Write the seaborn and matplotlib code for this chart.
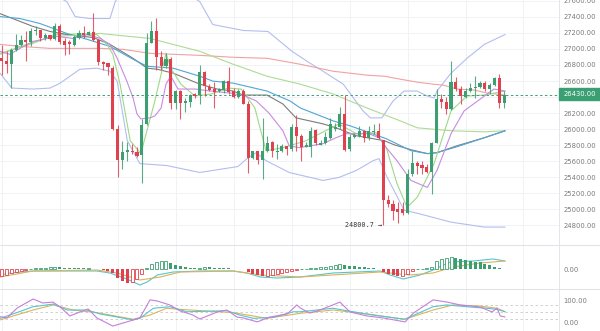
import matplotlib
matplotlib.use("Agg")
import matplotlib.pyplot as plt
from matplotlib.patches import Rectangle
import numpy as np
import pandas as pd
import seaborn as sns

sns.set_theme(style="white")
plt.rcParams['font.family'] = ['DejaVu Sans']

# ---- candles (4h) ----
opens = [26887, 26854, 26813, 26991, 27044, 27114, 27086, 27226, 27238, 27135,
         27168, 27127, 27292, 27094, 27086, 27052, 27135, 27197, 27176, 27205,
         27114, 26838, 26825, 26764, 26000, 25616, 25716, 25732, 25711, 25682,
         26062, 27073, 27218, 26896, 26784, 26879, 26330, 26475, 26330, 26339,
         26434, 26425, 26710, 26524, 26495, 26475, 26483, 26598, 26475, 26400,
         26475, 26318, 25641, 25724, 25616, 25732, 25835, 25720, 25732, 25785,
         25752, 26021, 25918, 25781, 25781, 25988, 25806, 25823, 25889, 25996,
         26021, 26186, 25752, 25897, 25918, 25979, 25889, 25963, 25971, 25864,
         25121, 25063, 25010, 25010, 24956, 25443, 25579, 25554, 25525, 25464,
         25823, 26372, 26339, 26248, 26586, 26495, 26405, 26475, 26508, 26528,
         26578, 26495, 26549, 26640, 26330]
highs = [27052, 26970, 27011, 27189, 27176, 27226, 27259, 27280, 27238, 27197,
         27176, 27321, 27308, 27135, 27114, 27176, 27238, 27292, 27218, 27445,
         27127, 26854, 26825, 26784, 26054, 25856, 25840, 25814, 25773, 26124,
         27197, 27350, 27383, 26970, 26949, 26896, 26483, 26483, 26392, 26442,
         26454, 26805, 26722, 26565, 26586, 26508, 26607, 26772, 26508, 26495,
         26495, 26351, 25732, 25732, 26141, 25918, 25848, 25814, 25814, 25794,
         26062, 26178, 25938, 25835, 26021, 26000, 25864, 25959, 26137, 26083,
         26277, 26421, 25938, 25946, 26041, 25988, 26041, 26070, 26083, 25870,
         25175, 25113, 25092, 25092, 25505, 25724, 25608, 25608, 25567, 25835,
         26495, 26442, 26400, 26854, 26648, 26537, 26508, 26578, 26660, 26598,
         26598, 26578, 26648, 26689, 26475]
lows = [26673, 26702, 26508, 26970, 27032, 26846, 27032, 27176, 27102, 27114,
        27114, 27114, 27061, 26929, 26941, 27032, 27127, 27135, 27168, 27102,
        26797, 26743, 26673, 25988, 25402, 25505, 25600, 25690, 25649, 25327,
        26050, 27073, 26743, 26743, 26764, 26248, 26248, 26124, 26215, 26277,
        26392, 26310, 26413, 26475, 26268, 26466, 26454, 26442, 26392, 26392,
        26310, 25451, 25629, 25567, 25373, 25711, 25649, 25629, 25711, 25682,
        25732, 25732, 25608, 25773, 25649, 25806, 25806, 25814, 25876, 25979,
        26000, 25724, 25732, 25889, 25897, 25835, 25864, 25938, 25880, 24800.7,
        25030, 24865, 24830, 24927, 24948, 25422, 25435, 25443, 25451, 25187,
        25823, 26268, 26186, 26235, 26475, 26310, 26392, 26466, 26392, 26508,
        26475, 26442, 26537, 26260, 26260]
closes = [26846, 26813, 26991, 27052, 27114, 27086, 27226, 27238, 27135, 27176,
          27127, 27292, 27086, 27052, 27061, 27143, 27197, 27176, 27209, 27114,
          26838, 26813, 26772, 26000, 25616, 25711, 25736, 25711, 25670, 26054,
          27073, 27218, 26896, 26784, 26879, 26330, 26475, 26330, 26351, 26425,
          26413, 26710, 26537, 26491, 26466, 26495, 26598, 26466, 26400, 26475,
          26318, 25641, 25724, 25616, 25732, 25823, 25724, 25732, 25785, 25752,
          26029, 25909, 25773, 25806, 25979, 25823, 25831, 25897, 26062, 26021,
          26186, 25740, 25897, 25930, 25979, 25889, 25971, 25979, 25889, 25113,
          25063, 24981, 24968, 24956, 25443, 25579, 25546, 25513, 25464, 25823,
          26372, 26339, 26248, 26586, 26495, 26413, 26475, 26508, 26528, 26578,
          26495, 26549, 26640, 26330, 26430]

last_price = 26430.00
low_label = "24800.7"

# ---- price overlays: (candle position, price) ----
ma_salmon_x = [-0.35, 3.8, 10, 20.4, 25.1, 30.7, 41, 47.9, 55, 61.8, 68.6, 75.6, 79.2, 82.5, 86, 89.3, 91.4, 94.3, 97.8, 100.5, 104.2]
ma_salmon_y = [27057, 27032, 27007, 27007, 26995, 26945, 26920, 26896, 26883, 26809, 26722, 26673, 26660, 26623, 26586, 26561, 26549, 26500, 26487, 26450, 26425]

ma_olive_x = [-0.35, 3, 6, 11, 20.4, 22.4, 30.7, 41, 47.9, 54.9, 61.8, 68.6, 75.6, 82.5, 86, 93, 99.9, 104.2]
ma_olive_y = [26945, 27007, 27057, 27180, 27193, 27180, 27131, 26970, 26809, 26660, 26561, 26438, 26264, 26103, 26017, 25980, 25967, 25980]

ma_grey_x = [-0.35, 6.5, 10, 13.5, 16.8, 18.9, 22.4, 27.2, 30.1, 32.2, 35.5, 41, 44.6, 47.9, 50, 54.9, 58.2, 60.9, 66.5, 69.2, 73.4, 79.2, 81.2, 84.7, 88.1, 90.1, 94.3, 99.9, 104.2]
ma_grey_y = [27440, 27280, 27218, 27180, 27156, 27143, 27057, 26883, 26760, 26747, 26698, 26561, 26500, 26475, 26425, 26425, 26314, 26141, 26066, 26017, 25918, 25856, 25806, 25744, 25695, 25707, 25794, 25893, 25980]

ma_teal_x = [-0.35, 3.8, 7.9, 13.5, 17.7, 20.4, 22.4, 27.2, 30.1, 35.5, 41, 43.7, 47.9, 54.9, 59.7, 61.8, 68.6, 72.1, 79.6, 84.7, 88.1, 90.1, 94.3, 99.9, 104.2]
ma_teal_y = [27403, 27379, 27317, 27193, 27119, 27069, 27032, 26871, 26784, 26760, 26660, 26599, 26574, 26475, 26351, 26264, 26103, 26042, 25881, 25732, 25695, 25707, 25782, 25893, 25980]

ma_purple_x = [-0.35, 1.7, 3.8, 6.5, 9.4, 11.4, 14.8, 17.7, 20.4, 22.4, 23.9, 25.9, 27.2, 28, 28.8, 30.7, 31.7, 33, 34, 35, 36.5, 40, 43.3, 47.3, 50.4, 52.7, 55.3, 58.2, 59.5, 61.6, 66.5, 69.2, 71.3, 73.4, 76, 78.1, 79.6, 81.8, 84.7, 88.1, 90.1, 93, 95.7, 99.9, 101.9, 104.2]
ma_purple_y = [26970, 26933, 27007, 27094, 27131, 27156, 27131, 27180, 27131, 27057, 26883, 26599, 26388, 26190, 26128, 26141, 26165, 26264, 26561, 26660, 26500, 26500, 26475, 26450, 26413, 26351, 26202, 25980, 25794, 25769, 25819, 25893, 25943, 25943, 25943, 25893, 25769, 25608, 25361, 25274, 25485, 25943, 26227, 26413, 26500, 26475]

ma_lime_x = [-0.35, 5.2, 10.6, 19.7, 21.8, 23, 24.5, 26.6, 28.8, 31.7, 34, 35, 37.1, 40, 43.3, 46.9, 49.6, 52.4, 54.7, 58.2, 63, 69.8, 73.4, 77.5, 79.6, 81.8, 83.9, 86, 89.5, 93, 96.3, 99.9, 104.2]
ma_lime_y = [26933, 27057, 27156, 27180, 27057, 26933, 26561, 25856, 25695, 26351, 26945, 26760, 26561, 26413, 26438, 26512, 26500, 26264, 25732, 25769, 25856, 26066, 25943, 25955, 25769, 25324, 25026, 25150, 25571, 26227, 26413, 26425, 26475]

boll_up_x = [-0.35, 8, 13.5, 15.2, 18.3, 22.4, 23.5, 27, 35, 41, 43.7, 50, 55.1, 57.6, 60.1, 63.2, 66.5, 70.7, 74.8, 76.3, 78.7, 81, 83.3, 86, 88.1, 89.5, 90.1, 93, 96.3, 99.9, 104.2]
boll_up_y = [27837, 27775, 27589, 27403, 27379, 27379, 27589, 27899, 27837, 27589, 27304, 27230, 27218, 27094, 26970, 26846, 26722, 26561, 26227, 26141, 26141, 26351, 26475, 26475, 26413, 26388, 26475, 26698, 26883, 27057, 27180]

boll_dn_x = [-0.35, 2.1, 6.5, 10, 12.1, 16.2, 19.7, 22.4, 23.9, 26, 28.6, 34.2, 41, 46.2, 48.9, 51, 52.7, 54.7, 59.5, 66.5, 69.8, 73.4, 76.9, 78.1, 79.6, 83.3, 86, 93, 99.9, 104.2]
boll_dn_y = [26698, 26512, 26500, 26512, 26574, 26747, 26760, 26722, 26599, 25856, 25571, 25546, 25460, 25509, 25534, 25645, 25707, 25608, 25460, 25361, 25398, 25485, 25608, 25633, 25423, 24989, 24952, 24841, 24779, 24779]

# ---- MACD ----
macd_hist = [-70, -55, -40, -28, -18, -8, 3, 8, 12, 15,
             18, 22, 18, 15, 12, 10, 8, 7, 10, 5,
             -2, -5, -15, -40, -90, -120, -137, -130, -100, -50,
             15, 55, 75, 83, 83, 57, 45, 35, 23, 12,
             10, 15, 20, 18, 15, 12, 10, 8, 5, 3,
             1, -25, -45, -60, -70, -65, -55, -45, -35, -25,
             -15, -5, 2, 5, 10, 15, 20, 25, 30, 40,
             50, 40, 35, 30, 25, 20, 15, 10, 5, -25,
             -45, -60, -70, -65, -45, -20, 3, 5, 8, 20,
             83, 100, 110, 118, 115, 105, 90, 83, 73, 67,
             50, 40, 23, 13, 5]
dif_x = [-0.35, 1.7, 6.5, 19.7, 22.4, 25.9, 28.6, 30.1, 32.2, 35.5, 41, 47.9, 50.8, 53.5, 57, 61.8, 68.6, 78.3, 80.4, 83.1, 86.6, 89.3, 92.8, 97.6, 101.7, 104.2]
dif_y = [-60, -40, -20, -20, -40, -100, -160, -130, -60, -30, -20, -20, -40, -80, -90, -80, -40, -20, -60, -100, -60, -10, 70, 80, 100, 80]
dea_x = [-0.35, 6.5, 19.7, 23.9, 28.6, 32.8, 37, 47.9, 53.5, 61.8, 78.3, 84.5, 89.3, 93.4, 99, 104.2]
dea_y = [-80, -20, -10, -40, -110, -80, -30, -20, -60, -80, -30, -60, -40, 20, 60, 80]

# ---- KDJ ----
k_x = [-0.35, 3.1, 6.5, 10.7, 13.5, 17.6, 20.4, 27.2, 28.6, 31.4, 34.8, 38.3, 46.6, 49.3, 52.1, 56.2, 60.4, 61.8, 68.6, 71.4, 76.9, 83.4, 89.3, 92.1, 96.2, 100.4, 102.5, 104.2]
k_y = [21, 47, 74, 86, 59, 59, 41, 14, 21, 67, 74, 51, 56, 36, 21, 26, 51, 51, 67, 56, 36, 17, 74, 82, 74, 67, 62, 51]
d_x = [-0.35, 6.5, 10.7, 14.8, 19.7, 27.2, 30.7, 34.1, 36.9, 48, 54.9, 61.8, 68.6, 75.6, 83.4, 89.3, 93.4, 98.9, 102.5, 104.2]
d_y = [14, 59, 82, 59, 47, 17, 36, 67, 62, 47, 21, 44, 59, 41, 17, 59, 82, 77, 67, 51]
j_x = [-0.35, 1.1, 3.2, 6.5, 8.5, 10.6, 12.1, 14.1, 16.2, 17.9, 19.7, 23, 25.9, 28.6, 30.7, 32.2, 34.8, 36.9, 39.6, 41, 44.6, 46.6, 48.7, 50, 52.9, 55.5, 59.1, 61.1, 61.8, 63.8, 65.9, 70, 72.1, 75.6, 78.9, 83.5, 85.2, 89.3, 92.2, 94.9, 99, 101.5, 102.5, 103.2, 104.2]
j_y = [29, 23, 68, 109, 91, 95, 73, 32, 50, 64, 23, -14, 5, 23, 105, 100, 82, 55, 36, 18, 50, 59, 27, 23, 5, 27, 41, 82, 68, 45, 59, 95, 50, 32, 23, 5, 45, 105, 95, 82, 73, 50, 68, 32, 27]

# ---- styling ----
UP, DOWN = "#3d9e71", "#e0414f"
GRID = "#edf1f4"
TXT = "#7a7a7a"
FS = 4.9

W, H = 600, 331
PLOT_R = 559
XLIM = (-0.35, 115.35)


def panel(top, bottom):
    a = fig.add_axes([0, 1 - bottom / H, PLOT_R / W, (bottom - top) / H])
    a.set_xlim(*XLIM)
    a.set_facecolor("white")
    for s in ("top", "left", "bottom"):
        a.spines[s].set_visible(False)
    a.spines["right"].set_color("#dde2e6")
    a.spines["right"].set_linewidth(0.6)
    a.yaxis.tick_right()
    a.tick_params(axis="y", length=0, pad=3.2, labelsize=FS, labelcolor=TXT)
    a.tick_params(axis="x", length=0, labelbottom=False)
    a.set_xticks(np.arange(0, 116, 12))
    a.grid(True, axis="x", color=GRID, lw=0.6)
    a.set_xlabel("")
    a.set_ylabel("")
    return a


fig = plt.figure(figsize=(6.0, 3.31), dpi=100)
fig.patch.set_facecolor("white")

ax = panel(0, 245)
axm = panel(245, 289)
axk = panel(289, 331)

# main price panel
ax.set_ylim(24556, 27610)
price_ticks = np.arange(24800, 27601, 200)
ax.set_yticks(price_ticks)
# the level under the last-price tag keeps its grid line but no label
ax.set_yticklabels(["" if abs(t - last_price) < 100 else f"{t:.2f}" for t in price_ticks])
ax.grid(True, axis="y", color=GRID, lw=0.6)

lines_main = [
    (boll_up_x, boll_up_y, "#b3bdf0", 0.8),
    (boll_dn_x, boll_dn_y, "#b3bdf0", 0.8),
    (ma_salmon_x, ma_salmon_y, "#f0a2a2", 0.8),
    (ma_olive_x, ma_olive_y, "#aedb94", 0.8),
    (ma_grey_x, ma_grey_y, "#7b7b7b", 0.8),
    (ma_teal_x, ma_teal_y, "#4ea6d6", 0.8),
    (ma_lime_x, ma_lime_y, "#9ed985", 0.8),
    (ma_purple_x, ma_purple_y, "#c78be3", 0.8),
]
for xs, ys, col, lw in lines_main:
    sns.lineplot(x=xs, y=ys, ax=ax, color=col, lw=lw, sort=False, estimator=None)

idx = np.arange(len(opens))
o = np.array(opens, float)
c = np.array(closes, float)
hi = np.array(highs, float)
lo = np.array(lows, float)
up = c >= o
cols = np.where(up, UP, DOWN)
ax.vlines(idx, lo, hi, colors=cols, lw=0.8, alpha=0.85, zorder=3)
body_bottom = np.minimum(o, c)
body_h = np.maximum(np.abs(c - o), 10)
ax.bar(idx, body_h, bottom=body_bottom, width=0.64, color=cols, lw=0, zorder=4)

ax.axhline(last_price, color="#3f9f78", lw=0.7, ls=(0, (2.5, 2.5)), zorder=2)
imin = int(np.argmin(lo))
ax.annotate(low_label + " \u2192", xy=(imin - 0.3, lo[imin]), ha="right", va="center",
            fontsize=FS, color="#333333", family="DejaVu Sans Mono")

# last price tag on the axis
fig.patches.append(Rectangle((PLOT_R / W, 1 - 100 / H), 41 / W, 12 / H,
                             transform=fig.transFigure, color="#3a9f72", zorder=5))
fig.text((PLOT_R + 21) / W, 1 - 94 / H, f"{last_price:.2f}", ha="center", va="center",
         fontsize=FS, color="white", zorder=6)

# MACD panel
axm.set_ylim(-200, 240)
axm.set_yticks([0])
axm.yaxis.set_major_formatter(matplotlib.ticker.FormatStrFormatter("%.2f"))
hist = np.array(macd_hist, float)
prev = np.concatenate([[hist[0]], hist[:-1]])
rising = hist >= prev
for i, v in enumerate(hist):
    col = UP if v >= 0 else DOWN
    if rising[i]:
        axm.bar(i, v, width=0.62, facecolor="white", edgecolor=col, lw=0.6, zorder=3)
    else:
        axm.bar(i, v, width=0.62, color=col, lw=0, zorder=3)
sns.lineplot(x=dif_x, y=dif_y, ax=axm, color="#55c6cc", lw=0.8, sort=False, estimator=None)
sns.lineplot(x=dea_x, y=dea_y, ax=axm, color="#dcb25e", lw=0.8, sort=False, estimator=None)

# KDJ panel
axk.set_ylim(-36.4, 154.5)
axk.set_yticks([0, 100])
axk.yaxis.set_major_formatter(matplotlib.ticker.FormatStrFormatter("%.2f"))
for lvl in (20, 50, 80):
    axk.axhline(lvl, color="#c9c9c9", lw=0.6, ls=(0, (3, 3)), zorder=1)
sns.lineplot(x=d_x, y=d_y, ax=axk, color="#dcb25e", lw=0.8, sort=False, estimator=None)
sns.lineplot(x=k_x, y=k_y, ax=axk, color="#55c6cc", lw=0.8, sort=False, estimator=None)
sns.lineplot(x=j_x, y=j_y, ax=axk, color="#c77ddc", lw=0.8, sort=False, estimator=None)

# panel separators
for yy in (245, 289):
    fig.add_artist(plt.Line2D([0, 1], [1 - yy / H] * 2, transform=fig.transFigure,
                              color="#dfe3e7", lw=0.7))

fig.savefig("out.png", dpi=100, facecolor="white")
